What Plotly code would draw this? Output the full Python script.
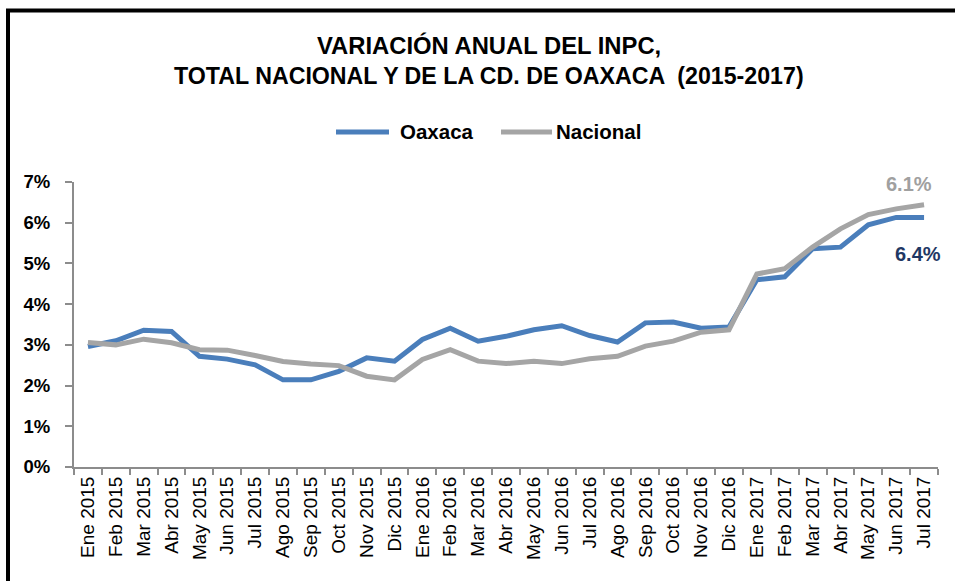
import plotly.graph_objects as go

meses = ["Ene 2015", "Feb 2015", "Mar 2015", "Abr 2015", "May 2015", "Jun 2015", "Jul 2015",
         "Ago 2015", "Sep 2015", "Oct 2015", "Nov 2015", "Dic 2015",
         "Ene 2016", "Feb 2016", "Mar 2016", "Abr 2016", "May 2016", "Jun 2016", "Jul 2016",
         "Ago 2016", "Sep 2016", "Oct 2016", "Nov 2016", "Dic 2016",
         "Ene 2017", "Feb 2017", "Mar 2017", "Abr 2017", "May 2017", "Jun 2017", "Jul 2017"]

oaxaca = [2.96, 3.10, 3.36, 3.33, 2.72, 2.65, 2.51, 2.14, 2.14, 2.35, 2.68, 2.60,
          3.13, 3.41, 3.09, 3.21, 3.37, 3.47, 3.23, 3.07, 3.54, 3.56, 3.41, 3.44,
          4.60, 4.67, 5.36, 5.40, 5.95, 6.13, 6.13]

nacional = [3.06, 3.00, 3.14, 3.05, 2.88, 2.87, 2.74, 2.59, 2.53, 2.49, 2.23, 2.14,
            2.64, 2.88, 2.60, 2.54, 2.60, 2.54, 2.66, 2.72, 2.97, 3.09, 3.31, 3.37,
            4.74, 4.87, 5.40, 5.85, 6.20, 6.34, 6.44]

y_ticks = [0, 1, 2, 3, 4, 5, 6, 7]
y_labels = [f"{v}%" for v in y_ticks]

series_names = ["Oaxaca", "Nacional"]
label_texts = ["6.4%", "6.1%"]

BLUE = "#4A7EBB"
GRAY = "#A5A5A5"
AXIS = "#8C8C8C"
FONT = "Liberation Sans, Arial, sans-serif"

# plot area in pixels
L, R, T, B = 74, 938, 182, 467
W, H = R - L, B - T


def px(x):
    return (x - L) / W


def py(y):
    return (B - y) / H


fig = go.Figure()
fig.add_trace(go.Scatter(x=meses, y=oaxaca, mode="lines", name=series_names[0],
                         line=dict(color=BLUE, width=5)))
fig.add_trace(go.Scatter(x=meses, y=nacional, mode="lines", name=series_names[1],
                         line=dict(color=GRAY, width=5)))

annotations = [
    dict(x=px(489), y=py(45), xref="paper", yref="paper", text="VARIACIÓN ANUAL DEL INPC,",
         showarrow=False, xanchor="center", yanchor="middle",
         font=dict(family=FONT, size=23.8, color="black", weight="bold")),
    dict(x=px(489), y=py(76), xref="paper", yref="paper",
         text="TOTAL NACIONAL Y DE LA CD. DE OAXACA  (2015-2017)",
         showarrow=False, xanchor="center", yanchor="middle",
         font=dict(family=FONT, size=23.2, color="black", weight="bold")),
    # legend texts
    dict(x=px(398), y=py(132), xref="paper", yref="paper", text=series_names[0],
         showarrow=False, xanchor="left", yanchor="middle",
         font=dict(family=FONT, size=20.5, color="black", weight="bold")),
    dict(x=px(554), y=py(132), xref="paper", yref="paper", text=series_names[1],
         showarrow=False, xanchor="left", yanchor="middle",
         font=dict(family=FONT, size=20.5, color="black", weight="bold")),
    # end labels (as in the original)
    dict(x=meses[-1], y=nacional[-1], xref="x", yref="y", text=label_texts[1], showarrow=False,
         xshift=-15, yshift=21, font=dict(family=FONT, size=20, color="#A0A0A0", weight="bold")),
    dict(x=meses[-1], y=oaxaca[-1], xref="x", yref="y", text=label_texts[0], showarrow=False,
         xshift=-6, yshift=-37, font=dict(family=FONT, size=20, color="#1F3864", weight="bold")),
]

shapes = [
    dict(type="rect", xref="paper", yref="paper",
         x0=px(8), x1=px(1000), y0=py(640), y1=py(10.5),
         line=dict(color="black", width=4), fillcolor="rgba(0,0,0,0)"),
    dict(type="line", xref="paper", yref="paper", x0=px(336), x1=px(389), y0=py(132), y1=py(132),
         line=dict(color=BLUE, width=5)),
    dict(type="line", xref="paper", yref="paper", x0=px(501), x1=px(552), y0=py(132), y1=py(132),
         line=dict(color=GRAY, width=5)),
]

fig.update_layout(
    width=955, height=581,
    paper_bgcolor="white", plot_bgcolor="white",
    margin=dict(l=L, r=955 - R, t=T, b=581 - B),
    showlegend=False,
    xaxis=dict(type="category", range=[-0.5, len(meses) - 0.5], tickson="boundaries",
               ticks="outside", ticklen=6,
               tickcolor=AXIS, tickwidth=2, showline=True, linecolor=AXIS, linewidth=2,
               showgrid=False, tickangle=-90,
               tickfont=dict(family=FONT, size=19, color="black")),
    yaxis=dict(range=[0, 7], tickvals=y_ticks, ticktext=y_labels, ticks="outside",
               ticklen=7, tickcolor=AXIS, tickwidth=2, showline=True, linecolor=AXIS,
               linewidth=2, showgrid=False, zeroline=False, ticklabelstandoff=11,
               tickfont=dict(family=FONT, size=18.5, color="black", weight="bold")),
    shapes=shapes,
    annotations=annotations,
)

fig.write_html("out.html", config={"displayModeBar": False},
               post_script="document.body.style.margin='0';document.body.style.overflow='hidden';")
